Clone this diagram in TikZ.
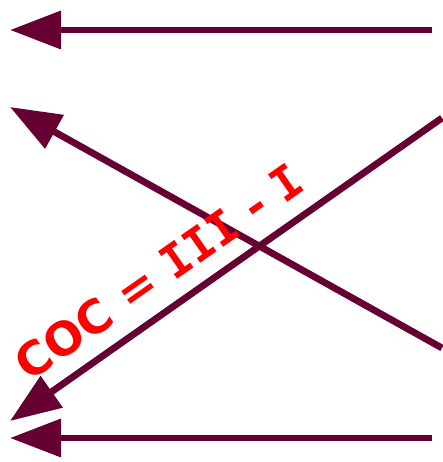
\documentclass[tikz,border=0pt]{standalone}
\usepackage{fontspec}
\newfontfamily\labelfont{DejaVu Sans}
\newfontfamily\labelmono{DejaVu Sans Mono}
\usetikzlibrary{arrows.meta}
\definecolor{cocMaroon}{RGB}{102,0,51}
\definecolor{cocRed}{RGB}{255,0,0}
\tikzset{
  maparrow/.style={-{Triangle[length=51pt, width=37pt]}, line width=6.8pt, draw=cocMaroon},
  coclabel/.style={text=cocRed, font=\labelfont\bfseries\fontsize{46}{46}\selectfont, inner sep=0pt}
}
\begin{document}
\begin{tikzpicture}[x=1pt, y=-1pt]
\useasboundingbox (0,0) rectangle (442,462);
\coordinate (topR) at (432,30);
\coordinate (topL) at (10,30);
\coordinate (downR) at (442,348);
\coordinate (upL) at (10,107);
\coordinate (upR) at (442,118);
\coordinate (downL) at (10,421);
\coordinate (botR) at (432,438);
\coordinate (botL) at (10,438);
\draw[maparrow] (topR) -- (topL);
\draw[maparrow] (downR) -- (upL);
\draw[maparrow] (upR) -- (downL);
\draw[maparrow] (botR) -- (botL);
\node[coclabel, rotate=35] (coc) at (159,272) {COC = {\labelmono III} - {\labelmono I}};
\end{tikzpicture}
\end{document}
